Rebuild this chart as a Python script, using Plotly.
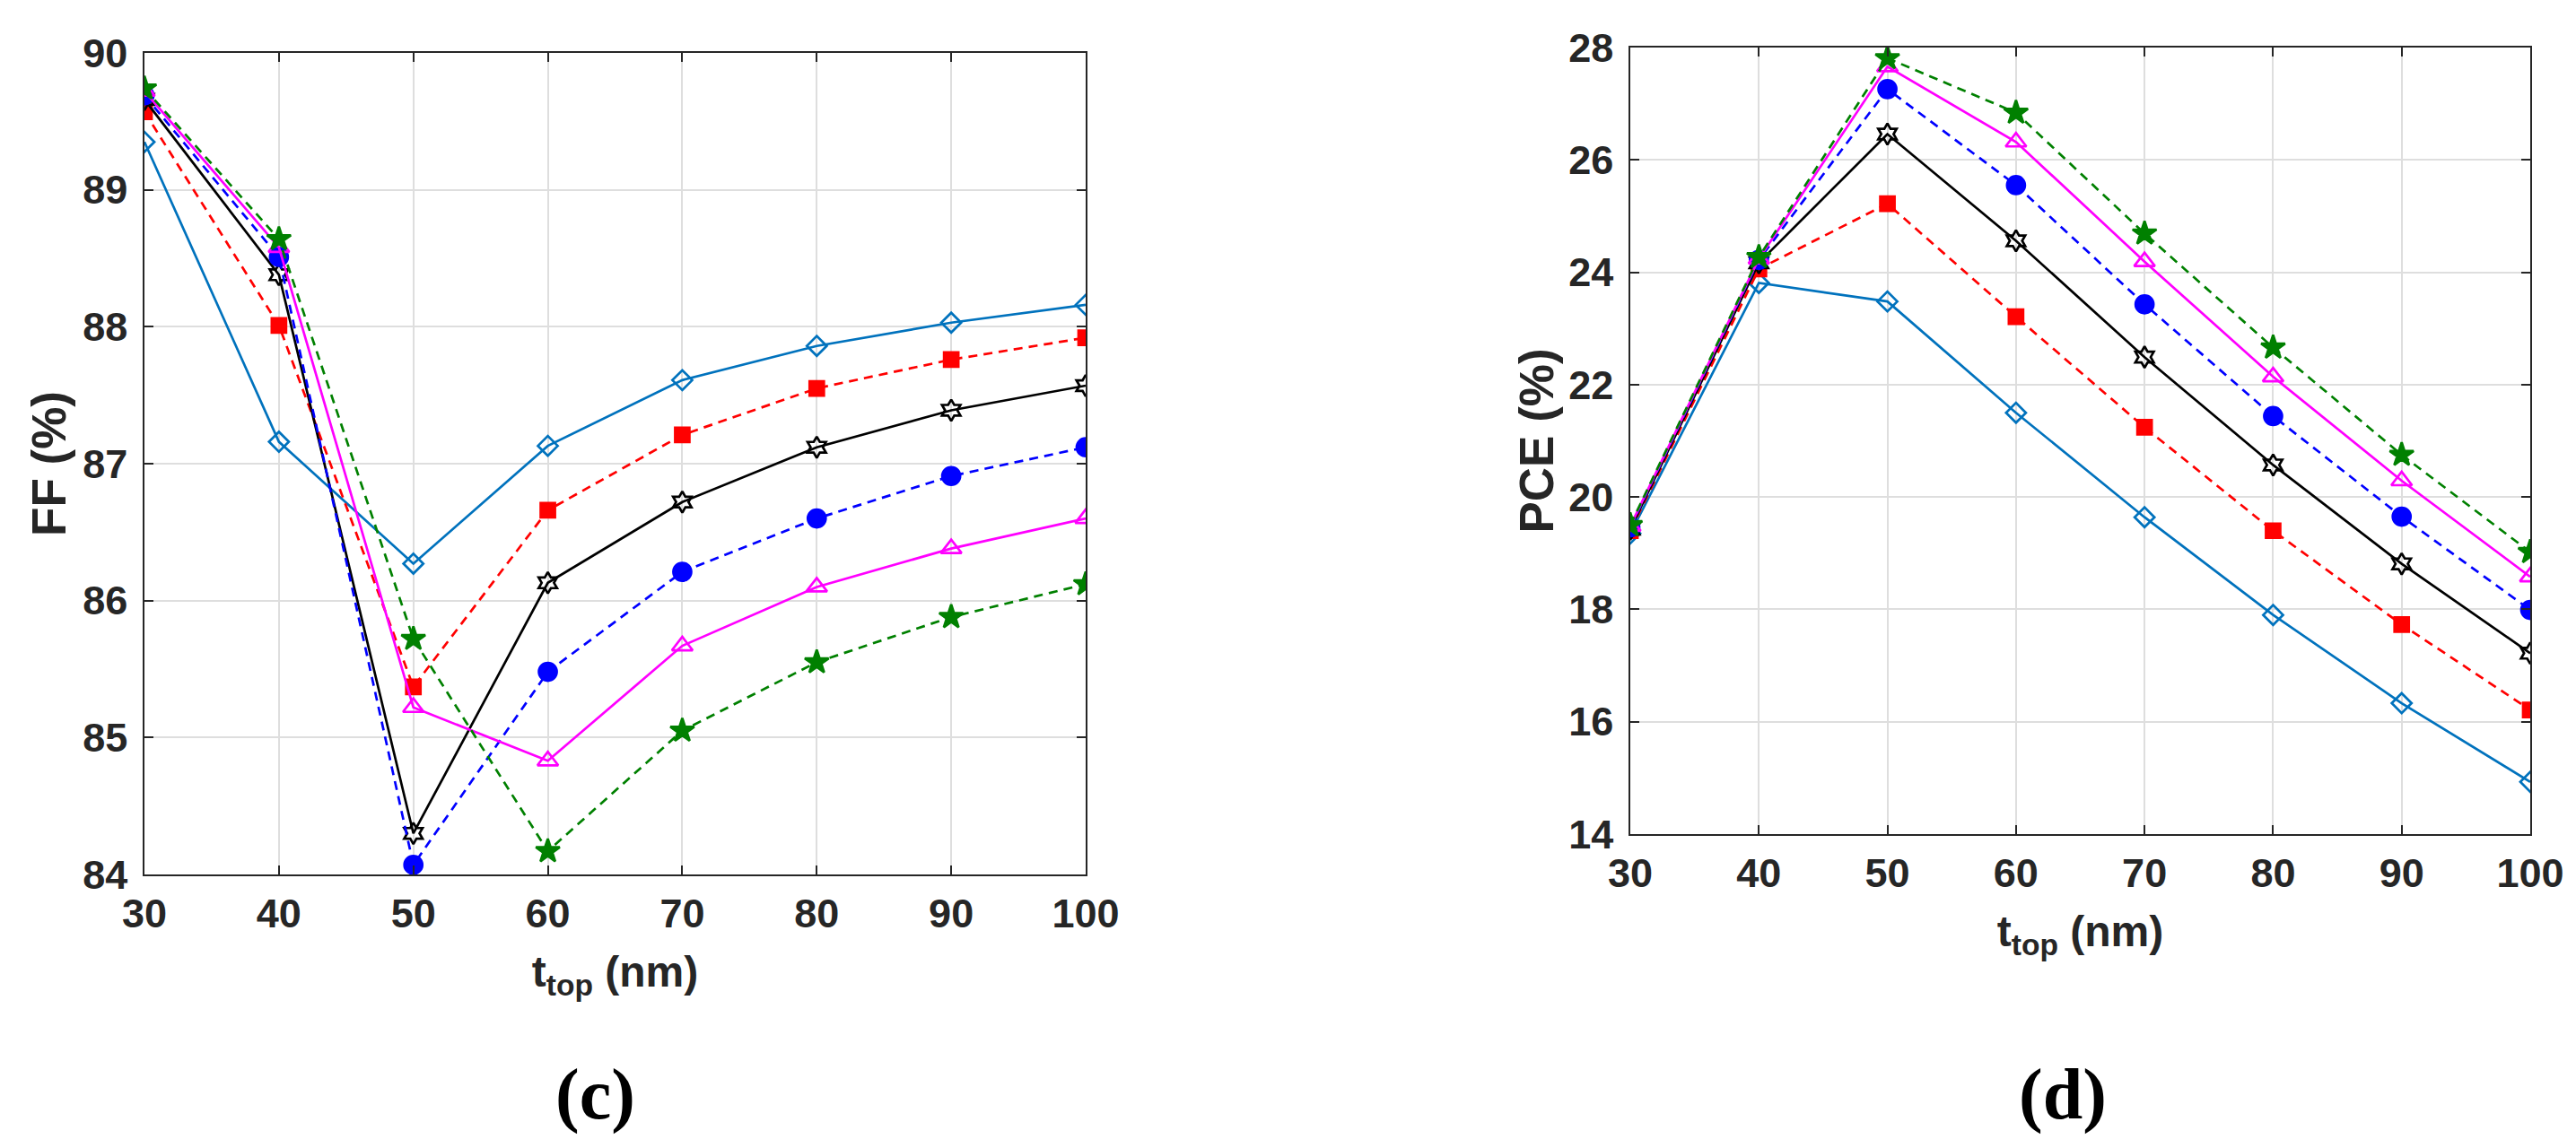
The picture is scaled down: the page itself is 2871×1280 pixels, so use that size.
import plotly.graph_objects as go

W, H = 2871, 1280

t_top = [30, 40, 50, 60, 70, 80, 90, 100]

# FF (%) for panel (c)
ff_diamond = [89.35, 87.16, 86.27, 87.13, 87.61, 87.86, 88.03, 88.16]
ff_square = [89.57, 88.01, 85.37, 86.66, 87.21, 87.55, 87.76, 87.92]
ff_hexagram = [89.66, 88.38, 84.30, 86.13, 86.72, 87.12, 87.39, 87.57]
ff_circle = [89.69, 88.51, 84.07, 85.48, 86.21, 86.60, 86.91, 87.12]
ff_triangle = [89.72, 88.58, 85.22, 84.83, 85.67, 86.10, 86.38, 86.60]
ff_star = [89.74, 88.64, 85.72, 84.17, 85.05, 85.55, 85.88, 86.12]

# PCE (%) for panel (d)
pce_diamond = [19.35, 23.81, 23.48, 21.50, 19.64, 17.90, 16.33, 14.93]
pce_square = [19.40, 24.06, 25.22, 23.21, 21.24, 19.40, 17.73, 16.21]
pce_hexagram = [19.43, 24.17, 26.46, 24.56, 22.49, 20.57, 18.81, 17.22]
pce_circle = [19.46, 24.22, 27.26, 25.55, 23.43, 21.44, 19.65, 17.99]
pce_triangle = [19.48, 24.24, 27.66, 26.32, 24.19, 22.14, 20.29, 18.58]
pce_star = [19.50, 24.27, 27.81, 26.84, 24.69, 22.66, 20.75, 19.02]

x_ticks = [30, 40, 50, 60, 70, 80, 90, 100]
ff_ticks = [84, 85, 86, 87, 88, 89, 90]
pce_ticks = [14, 16, 18, 20, 22, 24, 26, 28]

# (colour, symbol, dash, size)
styles = [
    ("#0072BD", "diamond-open", "solid", 17),
    ("#FF0000", "square", "10px,7px", 16),
    ("#000000", "hexagram-open", "solid", 18),
    ("#0000FF", "circle", "10px,7px", 20),
    ("#FF00FF", "triangle-up-open", "solid", 20),
    ("#008000", "star", "10px,7px", 20),
]

ff_series = [ff_diamond, ff_square, ff_hexagram, ff_circle, ff_triangle, ff_star]
pce_series = [pce_diamond, pce_square, pce_hexagram, pce_circle, pce_triangle, pce_star]

fig = go.Figure()

for xa, ya, series in [("x", "y", ff_series), ("x2", "y2", pce_series)]:
    for vals, (col, sym, dash, size) in zip(series, styles):
        fig.add_trace(go.Scatter(
            x=t_top, y=vals, xaxis=xa, yaxis=ya,
            mode="lines+markers",
            line=dict(color=col, width=2.7, dash=dash),
            marker=dict(symbol=sym, size=size, color=col,
                        line=dict(color=col, width=2.7)),
            showlegend=False,
        ))

font = "Arial, Liberation Sans, sans-serif"
tick_font = dict(family=font, size=45, color="#262626", weight="bold")
xtitle_font = dict(family=font, size=48, color="#262626", weight="bold")
ytitle_font = dict(family=font, size=53, color="#262626", weight="bold")

def px_dom(a, b, total):
    return [a / total, b / total]

axis_common = dict(
    showline=True, linecolor="#262626", linewidth=1.5, mirror="ticks",
    ticks="inside", ticklen=10, tickwidth=1.5, tickcolor="#262626",
    showgrid=True, gridcolor="#dedede", gridwidth=1.5,
    zeroline=False, tickfont=tick_font, automargin=False,
)

xtitle = dict(text="t<sub>top</sub> (nm)", font=xtitle_font, standoff=24)

fig.update_layout(
    width=W, height=H,
    margin=dict(l=0, r=0, t=0, b=0),
    paper_bgcolor="white", plot_bgcolor="white",
    xaxis=dict(domain=px_dom(153, 1202, W), range=[30, 100], tickvals=x_ticks,
               anchor="y", title=xtitle, ticklabelstandoff=3, **axis_common),
    yaxis=dict(domain=[(H - 967) / H, (H - 51) / H], range=[84, 90], tickvals=ff_ticks,
               anchor="x", title=dict(text="FF (%)", font=ytitle_font, standoff=2),
               ticklabelstandoff=8, **axis_common),
    xaxis2=dict(domain=px_dom(1809, 2812, W), range=[30, 100], tickvals=x_ticks,
                anchor="y2", title=xtitle, ticklabelstandoff=3, **axis_common),
    yaxis2=dict(domain=[(H - 922) / H, (H - 45) / H], range=[14, 28], tickvals=pce_ticks,
                anchor="x2", title=dict(text="PCE (%)", font=ytitle_font, standoff=0),
                ticklabelstandoff=8, **axis_common),
)

label_font = dict(family="Times New Roman, Liberation Serif, serif", size=80,
                  color="black", weight="bold")
for txt, xp in [("(c)", 655), ("(d)", 2291)]:
    fig.add_annotation(text=txt, x=xp / W, y=(H - 1212) / H, xref="paper", yref="paper",
                       showarrow=False, font=label_font, xanchor="center", yanchor="middle")

fig.write_html("out.html")
